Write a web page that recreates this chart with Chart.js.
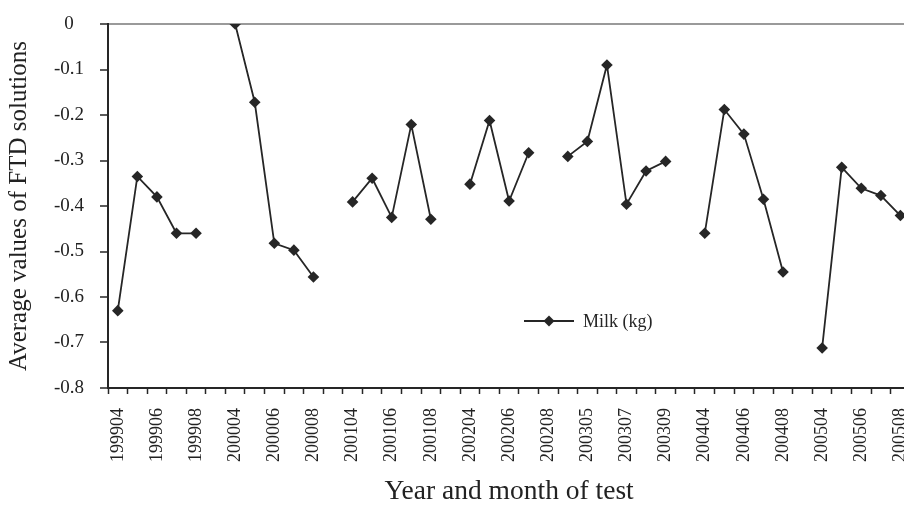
<!DOCTYPE html>
<html lang="en">
<head>
	<meta charset="UTF-8">
	<title>FTD solutions</title>
	<script src="https://cdn.jsdelivr.net/npm/chart.js@4/dist/chart.umd.min.js"></script>
	<style>
		html, body { margin:0; padding:0; background:#fff; overflow:hidden; }
		#wrap { width:916px; height:508px; }
	</style>
</head>
<body>
	<div id="wrap"><canvas id="chart" width="916" height="508"></canvas></div>

	<script>

		// test months, "" = empty slot between years
		var months=[
			"199904","199905","199906","199907","199908","",
			"200004","200005","200006","200007","200008","",
			"200104","200105","200106","200107","200108","",
			"200204","200205","200206","200207","200208",
			"200304","200305","200306","200307","200308","200309","",
			"200404","200405","200406","200407","200408","",
			"200504","200505","200506","200507","200508"
		];

		var milk=[
			-0.63,-0.335,-0.38,-0.46,-0.46,null,
			0,-0.172,-0.482,-0.497,-0.556,null,
			-0.391,-0.339,-0.425,-0.221,-0.429,null,
			-0.352,-0.212,-0.389,-0.283,null,
			-0.291,-0.258,-0.09,-0.396,-0.323,-0.302,null,
			-0.46,-0.188,-0.242,-0.385,-0.545,null,
			-0.712,-0.315,-0.361,-0.377,-0.421
		];

		var yTicks=[0,-0.1,-0.2,-0.3,-0.4,-0.5,-0.6,-0.7,-0.8];

		var seriesName="Milk (kg)",
			yTitle="Average values of FTD solutions",
			xTitle="Year and month of test";

		var ink="#262626";
		var serif="'Liberation Serif', 'Times New Roman', serif";

		// legend drawn inside the plot
		var innerLegend={
			id:"innerLegend",
			afterDraw:function(chart){
				var ctx=chart.ctx,
					a=chart.chartArea;
				var x=a.left+416,
					y=a.top+297;
				ctx.save();
				ctx.strokeStyle=ink;
				ctx.lineWidth=1.8;
				ctx.beginPath();
				ctx.moveTo(x,y);
				ctx.lineTo(x+50,y);
				ctx.stroke();
				ctx.fillStyle=ink;
				ctx.beginPath();
				ctx.moveTo(x+25,y-5.5);
				ctx.lineTo(x+30.5,y);
				ctx.lineTo(x+25,y+5.5);
				ctx.lineTo(x+19.5,y);
				ctx.closePath();
				ctx.fill();
				ctx.font="18px "+serif;
				ctx.textBaseline="middle";
				ctx.fillText(seriesName,x+59,y+1);
				ctx.restore();
			}
		};

		new Chart(document.getElementById("chart"),{
			type:"line",
			data:{
				labels:months,
				datasets:[{
					label:seriesName,
					data:milk,
					borderColor:ink,
					borderWidth:1.8,
					backgroundColor:ink,
					pointStyle:"rectRot",
					pointRadius:5.8,
					pointBorderWidth:0,
					pointBackgroundColor:ink,
					spanGaps:false,
					tension:0
				}]
			},
			options:{
				responsive:false,
				animation:false,
				layout:{padding:{top:24,left:0,right:0,bottom:0}},
				plugins:{
					legend:{display:false},
					tooltip:{enabled:false}
				},
				scales:{
					x:{
						offset:true,
						afterFit:function(a){
							a.height=120;
							a.paddingLeft=0;
							a.paddingRight=0;
						},
						grid:{
							offset:true,
							drawOnChartArea:false,
							tickLength:6,
							tickColor:ink,
							tickWidth:1.5
						},
						border:{color:ink,width:2},
						ticks:{
							autoSkip:false,
							maxRotation:90,
							minRotation:90,
							padding:14,
							color:"#222",
							font:{family:serif,size:18},
							callback:function(v,i){
								return i%2===0 ? months[i] : "";
							}
						},
						title:{
							display:true,
							text:xTitle,
							color:"#222",
							font:{family:serif,size:27.5},
							padding:{top:0,bottom:0}
						}
					},
					y:{
						min:-0.8,
						max:0,
						afterFit:function(a){
							a.width=108;
							a.paddingTop=0;
							a.paddingBottom=0;
						},
						afterBuildTicks:function(axis){
							axis.ticks=yTicks.map(function(v){return {value:v};});
						},
						grid:{
							color:function(c){
								return c.tick && c.tick.value===0 ? "#9a9a9a" : "rgba(0,0,0,0)";
							},
							lineWidth:2,
							tickLength:8,
							tickColor:ink,
							tickWidth:1.5
						},
						border:{color:ink,width:2},
						ticks:{
							crossAlign:"center",
							padding:16,
							color:"#222",
							font:{family:serif,size:19},
							callback:function(v){
								return v===0 ? "0" : String(Math.round(v*10)/10);
							}
						},
						title:{
							display:true,
							text:yTitle,
							color:"#222",
							font:{family:serif,size:25},
							padding:{top:4,bottom:0}
						}
					}
				}
			},
			plugins:[innerLegend]
		});

	</script>

</body>
</html>
